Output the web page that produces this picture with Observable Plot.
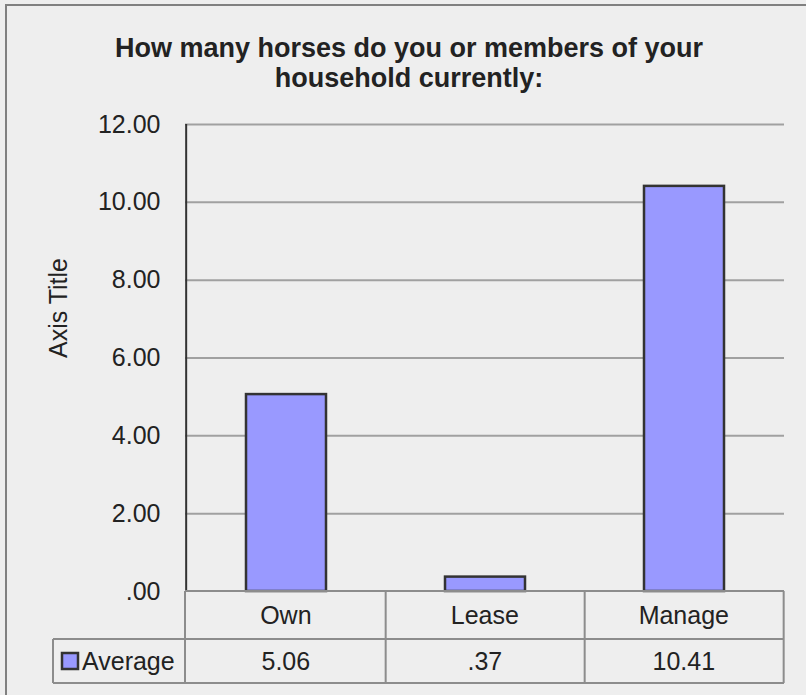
<!DOCTYPE html>
<html>
<head>
<meta charset="utf-8">
<script src="https://cdn.jsdelivr.net/npm/d3@7"></script>
<script src="https://cdn.jsdelivr.net/npm/@observablehq/plot@0.6"></script>
<style>
  html, body { margin: 0; padding: 0; background: #ffffff; }
  #chart { width: 806px; height: 695px; position: relative; overflow: hidden; }
</style>
</head>
<body>
<div id="chart"></div>
<script>
// ---- data ----
const titleLines = ["How many horses do you or members of your", "household currently:"];
const categories = ["Own", "Lease", "Manage"];
const averages = [5.06, 0.37, 10.41];
const valueLabels = ["5.06", ".37", "10.41"];
const seriesName = "Average";
const yTicks = [0, 2, 4, 6, 8, 10, 12];
const yAxisTitle = "Axis Title";

// ---- styles ----
const FONT = "'Liberation Sans', Arial, sans-serif";
const BG = "#eeeeee";
const BAR_FILL = "#9999ff";
const BAR_STROKE = "#333333";
const GRID = "#a0a0a0";
const TABLE_LINE = "#8c8c8c";
const TEXT = "#222222";
const FS = 25;

const rows = categories.map((c, i) => ({category: c, value: averages[i], label: valueLabels[i]}));
const fmt = d => d.toFixed(2).replace(/^0\./, ".");

const W = 806, H = 695;
const mTop = 124, mBottom = 104, mLeft = 185, mRight = 22;
const catRowH = 48, valRowH = 44, legendCellLeft = 53;

// data table under the plot, positioned from the x scale
function tableMark(index, scales, values, dims) {
  const g = d3.create("svg:g").attr("font-family", FONT).attr("font-size", FS).attr("fill", TEXT);
  const x = scales.x;
  const y0 = dims.height - dims.marginBottom;
  const bw = (dims.width - dims.marginLeft - dims.marginRight) / categories.length;
  const left = dims.marginLeft, right = dims.width - dims.marginRight;
  const r1 = y0 + catRowH, r2 = r1 + valRowH;
  const lines = [];
  lines.push([left, y0, right, y0]);
  lines.push([legendCellLeft, r1, right, r1]);
  lines.push([legendCellLeft, r2, right, r2]);
  lines.push([legendCellLeft, r1, legendCellLeft, r2]);
  lines.push([left, y0, left, r2]);
  categories.forEach(c => {
    const xr = x(c) + bw;
    lines.push([xr, y0, xr, r2]);
  });
  g.selectAll("line").data(lines).join("line")
    .attr("x1", d => d[0]).attr("y1", d => d[1]).attr("x2", d => d[2]).attr("y2", d => d[3])
    .attr("stroke", TABLE_LINE).attr("stroke-width", 2);
  g.selectAll("text.cat").data(rows).join("text").attr("class", "cat")
    .attr("x", d => x(d.category) + bw / 2).attr("y", y0 + catRowH / 2)
    .attr("dy", "0.35em").attr("text-anchor", "middle")
    .text(d => d.category);
  g.selectAll("text.val").data(rows).join("text").attr("class", "val")
    .attr("x", d => x(d.category) + bw / 2).attr("y", r1 + valRowH / 2)
    .attr("dy", "0.35em").attr("text-anchor", "middle")
    .text(d => d.label);
  // legend key
  const kx = legendCellLeft + 9, ky = r1 + valRowH / 2 - 8;
  g.append("rect").attr("x", kx).attr("y", ky).attr("width", 16).attr("height", 16)
    .attr("fill", BAR_FILL).attr("stroke", BAR_STROKE).attr("stroke-width", 2.5);
  g.append("text").attr("x", kx + 20).attr("y", r1 + valRowH / 2).attr("dy", "0.35em")
    .attr("text-anchor", "start")
    .text(seriesName);
  return g.node();
}

const plot = Plot.plot({
  width: W,
  height: H,
  marginTop: mTop,
  marginBottom: mBottom,
  marginLeft: mLeft,
  marginRight: mRight,
  style: {background: BG, fontFamily: FONT, color: TEXT, overflow: "visible"},
  x: {domain: categories, padding: 0, axis: null},
  y: {domain: [0, 12], ticks: yTicks, tickFormat: fmt, label: null},
  marks: [
    Plot.ruleY(yTicks.filter(t => t > 0), {stroke: GRID, strokeWidth: 2}),
    Plot.barY(rows, {
      x: "category", y: "value",
      fill: BAR_FILL, stroke: BAR_STROKE, strokeWidth: 2.5,
      insetLeft: 60, insetRight: 59
    }),
    Plot.axisY({ticks: yTicks, tickFormat: fmt, tickSize: 0, tickPadding: 25,
      fontSize: FS, label: null, fill: TEXT}),
    Plot.ruleX([0], {x: () => categories[0], y1: 0, y2: 12, stroke: "#333", strokeWidth: 2,
      dx: -(W - mLeft - mRight) / categories.length / 2}),
    tableMark,
    Plot.text([yAxisTitle], {
      text: d => d, frameAnchor: "left", dx: -127, rotate: -90,
      fontSize: FS, fill: TEXT
    }),
    Plot.text([titleLines.join("\n")], {
      text: d => d, frameAnchor: "top", lineAnchor: "middle", dy: -62, lineHeight: 1.1,
      fontSize: 27, fontWeight: "bold", fill: TEXT, textAnchor: "middle", dx: -76
    })
  ]
});

const wrap = document.getElementById("chart");
wrap.appendChild(plot);
// outer chart border (top and left edges visible)
const svg = d3.select(plot);
svg.append("rect").attr("x", 6).attr("y", 5).attr("width", W + 20).attr("height", H + 20)
  .attr("fill", "none").attr("stroke", "#808080").attr("stroke-width", 2);
</script>
</body>
</html>
